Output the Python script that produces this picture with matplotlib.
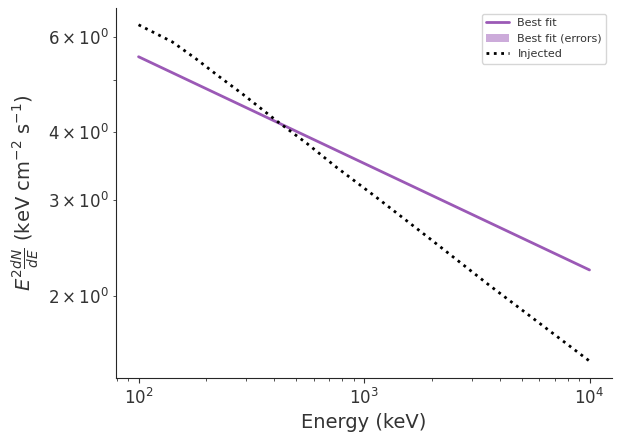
import numpy as np
import matplotlib
matplotlib.use('Agg')
import matplotlib.pyplot as plt
import seaborn as sns

sns.set_style('ticks')
plt.rcParams['text.color'] = '.2'
plt.rcParams['axes.labelcolor'] = '.2'
plt.rcParams['xtick.color'] = '.2'
plt.rcParams['ytick.color'] = '.2'

# best fit power law (end points)
fit_energy = np.array([100.0, 10000.0])
fit_flux = np.array([5.51, 2.23])
fit_lo = np.array([5.51, 2.23])
fit_hi = np.array([5.51, 2.23])

# injected spectrum
inj_energy = np.array([100, 141, 180, 227, 290, 415, 560, 753, 1140, 1950, 3540, 10000])
inj_flux = np.array([6.31, 5.87, 5.46, 5.07, 4.70, 4.18, 3.81, 3.45, 3.03, 2.55, 2.10, 1.515])

col = '#9b59b6'

fig, ax = plt.subplots(figsize=(6.22, 4.43), dpi=100)
fig.subplots_adjust(left=0.1865, right=0.984, top=0.982, bottom=0.147)

ax.plot(fit_energy, fit_flux, color=col, lw=2, label='Best fit')
ax.fill_between(fit_energy, fit_lo, fit_hi, color=col, alpha=0.5, lw=0, label='Best fit (errors)')
ax.plot(inj_energy, inj_flux, color='black', ls=':', lw=2, label='Injected')

ax.set_xscale('log')
ax.set_yscale('log')
ax.tick_params(labelsize=12)
ax.tick_params(which='minor', labelsize=12)
ax.set_xlabel('Energy (keV)', fontsize=14)
ax.set_ylabel(r'$E^2\frac{dN}{dE}$ (keV cm$^{-2}$ s$^{-1}$)', fontsize=14)
ax.legend(loc='upper right', fontsize=8)
sns.despine(ax=ax)

plt.savefig('out.png', dpi=100)
